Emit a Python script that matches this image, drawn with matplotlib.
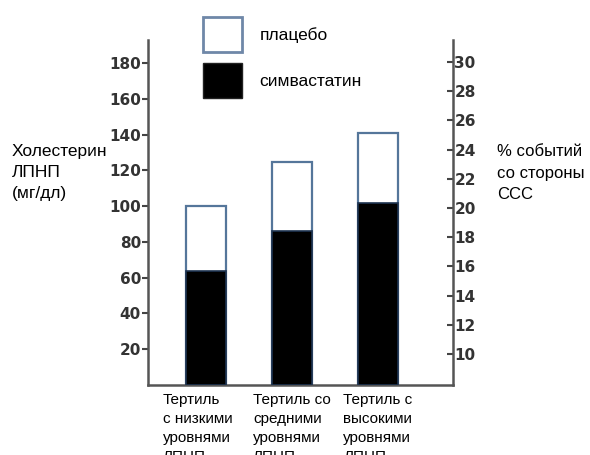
import matplotlib.pyplot as plt
from matplotlib.patches import Patch
from matplotlib.transforms import ScaledTranslation

# data
groups = ['Тертиль\nс низкими\nуровнями\nЛПНП',
          'Тертиль со\nсредними\nуровнями\nЛПНП',
          'Тертиль с\nвысокими\nуровнями\nЛПНП']
placebo = [100, 125, 141]
simva = [64, 86, 102]
left_ticks = [20, 40, 60, 80, 100, 120, 140, 160, 180]
right_ticks = [10, 12, 14, 16, 18, 20, 22, 24, 26, 28, 30]

plt.rcParams['font.family'] = ['Liberation Sans', 'DejaVu Sans']

fig = plt.figure(figsize=(5.9, 4.55), dpi=100)
ax = fig.add_axes([148 / 590, 1 - 385 / 455, (453 - 148) / 590, (385 - 40) / 455])

x = list(range(len(groups)))
ax.bar(x, placebo, width=0.46, color='white', edgecolor='#55769a', linewidth=1.6, zorder=2)
ax.bar(x, simva, width=0.46, color='black', edgecolor='#1e3350', linewidth=1.2, zorder=3)

ax.set_xlim(-0.67, 2.87)
ax.set_ylim(0, 193)
ax.set_yticks(left_ticks)
ax.set_xticks(x)
ax.set_xticklabels(groups, fontsize=11, multialignment='left', linespacing=1.45)
ax.tick_params(axis='x', length=0, pad=6)
# first label sits a little left of its bar in the original
lab0 = ax.get_xticklabels()[0]
lab0.set_transform(lab0.get_transform() + ScaledTranslation(-0.08, 0, fig.dpi_scale_trans))
ax.tick_params(axis='y', direction='out', length=4, width=1.5, color='#444',
               labelsize=11, labelcolor='#333', pad=1)
for lab in ax.get_yticklabels():
    lab.set_fontfamily(['Liberation Sans Narrow', 'DejaVu Sans'])
    lab.set_fontweight('bold')

for s in ['top', 'right']:
    ax.spines[s].set_visible(False)
for s in ['left', 'bottom']:
    ax.spines[s].set_color('#555')
    ax.spines[s].set_linewidth(1.8)

ax2 = ax.twinx()
ax2.set_ylim(7.88, 31.5)
ax2.set_yticks(right_ticks)
ax2.tick_params(axis='y', direction='in', length=4, width=1.5, color='#444',
                labelsize=11, labelcolor='#333', pad=1)
for lab in ax2.get_yticklabels():
    lab.set_fontfamily(['Liberation Sans Narrow', 'DejaVu Sans'])
    lab.set_fontweight('bold')
for s in ['top', 'left', 'bottom']:
    ax2.spines[s].set_visible(False)
ax2.spines['right'].set_color('#555')
ax2.spines['right'].set_linewidth(1.8)

fig.text(12 / 590, 1 - 144 / 455, 'Холестерин\nЛПНП\n(мг/дл)', fontsize=12.5,
         va='top', ha='left', linespacing=1.5)
fig.text(497 / 590, 1 - 144 / 455, '% событий\nсо стороны\nССС', fontsize=12,
         va='top', ha='left', linespacing=1.55)

handles = [Patch(facecolor='white', edgecolor='#6f88a8', linewidth=2),
           Patch(facecolor='black', edgecolor='#222', linewidth=1)]
fig.legend(handles, ['плацебо', 'симвастатин'], loc='upper left',
           bbox_to_anchor=(203 / 590, 1 - 17 / 455), frameon=False,
           fontsize=12.5, handlelength=2.25, handleheight=2.75,
           handletextpad=1.0, labelspacing=0.6, borderpad=0, borderaxespad=0)

fig.savefig('out.png', dpi=100)
